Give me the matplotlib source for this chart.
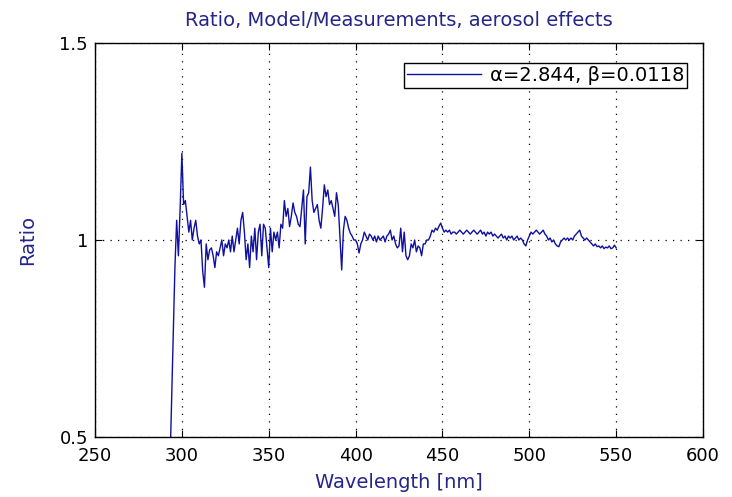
import matplotlib
matplotlib.use('Agg')
import matplotlib.pyplot as plt
import numpy as np

plt.rcParams['font.family'] = ['DejaVu Sans']

wavelength = np.arange(293, 551)
ratio = [
    0.40, 0.58, 0.77, 0.93, 1.05, 0.96, 1.08,
    1.22, 1.09, 1.10, 1.06, 1.02, 1.05, 1.00, 1.03, 1.05, 1.01,
    0.99, 1.00, 0.92, 0.88, 0.99, 0.95, 0.975, 0.98, 0.96, 0.93,
    0.97, 0.96, 0.98, 1.00, 0.96, 0.99, 0.98, 1.00, 0.97, 1.01,
    0.97, 1.00, 1.03, 0.99, 1.05, 1.07, 1.02, 0.95, 0.99, 0.93,
    1.01, 0.97, 1.03, 0.95, 1.02, 1.04, 0.96, 1.04, 1.03, 0.98,
    0.93, 1.03, 0.97, 1.02, 1.00, 1.02, 0.98, 1.04, 1.03, 1.10,
    1.06, 1.08, 1.034, 1.06, 1.094, 1.07, 1.06, 1.04, 1.034, 1.08,
    1.127, 0.99, 1.11, 1.12, 1.185, 1.10, 1.07, 1.08, 1.09, 1.05,
    1.03, 1.08, 1.14, 1.11, 1.127, 1.09, 1.10, 1.08, 1.06, 1.12,
    1.09, 1.008, 0.924, 1.025, 1.06, 1.05, 1.03, 1.017, 1.01, 1.00,
    1.00, 0.99, 0.967, 0.99, 1.00, 1.02, 1.01, 1.00, 1.015, 1.01,
    1.00, 1.01, 0.995, 1.01, 1.00, 1.005, 1.01, 0.995, 1.01, 1.015,
    1.025, 1.00, 1.01, 0.99, 0.98, 0.985, 1.03, 0.97, 1.02, 0.96,
    0.95, 0.96, 0.99, 0.98, 1.00, 0.97, 0.985, 0.98, 0.96, 0.99,
    0.99, 1.00, 1.00, 1.01, 1.025, 1.02, 1.03, 1.025, 1.035, 1.043,
    1.03, 1.02, 1.025, 1.02, 1.025, 1.015, 1.02, 1.02, 1.015, 1.02,
    1.025, 1.02, 1.015, 1.02, 1.025, 1.02, 1.015, 1.02, 1.025, 1.02,
    1.015, 1.02, 1.025, 1.015, 1.02, 1.01, 1.02, 1.015, 1.02, 1.01,
    1.015, 1.01, 1.005, 1.01, 1.015, 1.005, 1.01, 1.00, 1.01, 1.005,
    1.01, 1.00, 1.005, 1.01, 1.00, 1.005, 1.00, 0.99, 0.985, 1.00,
    1.01, 1.02, 1.015, 1.02, 1.025, 1.02, 1.015, 1.02, 1.025, 1.015,
    1.01, 1.00, 1.005, 0.995, 1.00, 0.99, 0.985, 0.983, 0.995, 1.00,
    1.005, 1.00, 1.005, 1.00, 1.005, 1.00, 1.01, 1.015, 1.02, 1.025,
    1.01, 1.005, 1.00, 1.005, 1.00, 0.995, 0.99, 0.985, 0.99, 0.983,
    0.985, 0.98, 0.985, 0.978, 0.982, 0.98, 0.985, 0.978, 0.98, 0.987,
    0.98,
]
xticks = [250, 300, 350, 400, 450, 500, 550, 600]
yticks = [0.5, 1.0, 1.5]
yticklabels = ['0.5', '1', '1.5']
label = '\u03b1=2.844, \u03b2=0.0118'

fig = plt.figure(figsize=(7.32, 4.97), dpi=100)
ax = fig.add_axes([0.1298, 0.1207, 0.8306, 0.7928])

ax.plot(wavelength, ratio, color='#1010a0', lw=1.0, label=label)

ax.set_xlim(250, 600)
ax.set_ylim(0.5, 1.5)
ax.set_xticks(xticks)
ax.set_yticks(yticks)
ax.set_yticklabels(yticklabels)
ax.grid(True, linestyle=(0, (1, 5)), color='black', lw=0.9)
ax.tick_params(direction='in', top=True, right=True, labelsize=13, length=5)
ax.tick_params(axis='x', pad=7)
ax.tick_params(axis='y', pad=5)
for s in ax.spines.values():
    s.set_linewidth(1.0)

navy = '#26268a'
ax.set_title('Ratio, Model/Measurements, aerosol effects', color=navy, fontsize=14, pad=12)
ax.set_xlabel('Wavelength [nm]', color=navy, fontsize=14, labelpad=6)
ax.set_ylabel('Ratio', color=navy, fontsize=14, labelpad=16)

leg = ax.legend(loc='upper right', bbox_to_anchor=(0.9737, 0.949), borderaxespad=0,
                fontsize=14, handlelength=3.8, handletextpad=0.45, fancybox=False,
                framealpha=1, edgecolor='black', borderpad=0.15)
leg.get_frame().set_linewidth(1.0)

fig.savefig('out.png', dpi=100)
